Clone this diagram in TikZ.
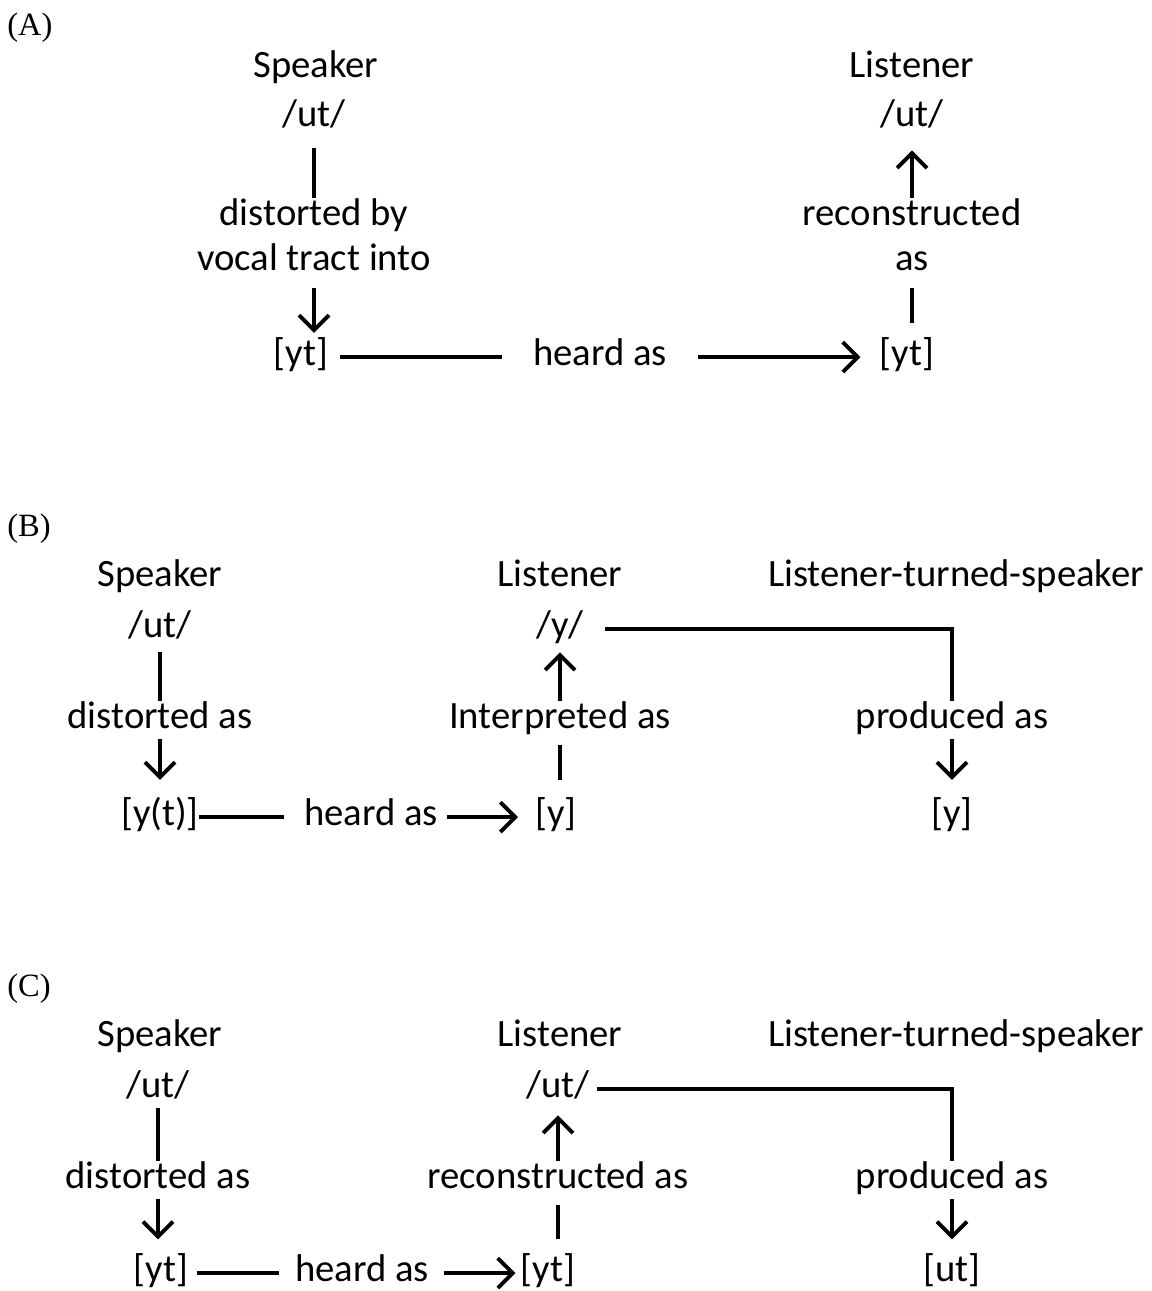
\documentclass[tikz,border=0pt]{standalone}
\usepackage{fontspec}
\setmainfont{Carlito}
\newfontfamily\panelfont{Liberation Serif}
\usetikzlibrary{arrows.meta}

\begin{document}
\begin{tikzpicture}[x=0.02cm,y=-0.02cm,
	word/.style={font=\fontsize{22}{25.5}\selectfont,anchor=base,inner sep=0pt,text height=15pt,text depth=6pt},
	twoline/.style={word,align=center,text height=40.5pt},
	panel/.style={font=\panelfont\fontsize{18.5}{22}\selectfont,anchor=base west,inner sep=0pt},
	link/.style={line width=2.2pt},
	arr/.style={link,-{Straight Barb[length=8.5pt,width=17pt]}}]
	\useasboundingbox (0,0) rectangle (1152,1291);

	\node[panel] (labA) at (7,36) {(A)};
	\node[word] (spkA) at (316,78) {Speaker};
	\node[word] (utA) at (314,127) {/ut/};
	\node[twoline] (distA) at (314,270) {distorted by\\vocal tract into};
	\node[word] (ytA) at (301,365) {[yt]};
	\node[word] (heardA) at (600,365) {heard as};
	\node[word] (ytA2) at (907,365) {[yt]};
	\node[word] (lisA) at (912,78) {Listener};
	\node[word] (utA2) at (912,127) {/ut/};
	\node[twoline] (recA) at (912,270) {reconstructed\\as};
	\draw[link,shorten <=0.2cm] (utA) -- (distA);
	\draw[arr,shorten <=0.15cm,shorten >=0.11cm] (distA) -- (distA |- ytA.north);
	\draw[link,shorten <=0.22cm,shorten >=0.62cm] (ytA) -- (heardA);
	\draw[arr,shorten <=0.62cm,shorten >=0.38cm] (heardA) -- (ytA2);
	\draw[link,shorten <=0.31cm,shorten >=0.15cm] (recA |- ytA2.north) -- (recA);
	\draw[arr,shorten >=0.25cm] (recA) -- (utA2);

	\node[panel] (labB) at (7,536) {(B)};
	\node[word] (spkB) at (160,586) {Speaker};
	\node[word] (utB) at (160,637) {/ut/};
	\node[word] (distB) at (160,728) {distorted as};
	\node[word] (ytB) at (160,825) {[y(t)]};
	\node[word] (heardB) at (371,825) {heard as};
	\node[word] (yB1) at (556,825) {[y]};
	\node[word] (lisB) at (560,586) {Listener};
	\node[word] (yB2) at (560,637) {/y/};
	\node[word] (intB) at (560,728) {Interpreted as};
	\node[word] (ltsB) at (956,586) {Listener-turned-speaker};
	\node[word] (prodB) at (952,728) {produced as};
	\node[word] (yB3) at (952,825) {[y]};
	\draw[link,shorten <=0.09cm] (utB) -- (distB);
	\draw[arr,shorten >=0.37cm] (distB) -- (ytB);
	\draw[link,shorten >=0.4cm] (ytB) -- (heardB);
	\draw[arr,shorten <=0.18cm,shorten >=0.34cm] (heardB) -- (yB1);
	\draw[link,shorten <=0.37cm,shorten >=0.13cm] (intB |- yB1.north) -- (intB);
	\draw[arr,shorten >=0.09cm] (intB) -- (yB2);
	\draw[link,shorten <=0.42cm] (yB2) -| (prodB);
	\draw[arr,shorten >=0.37cm] (prodB) -- (yB3);

	\node[panel] (labC) at (7,996) {(C)};
	\node[word] (spkC) at (160,1046) {Speaker};
	\node[word] (utC) at (158,1097) {/ut/};
	\node[word] (distC) at (158,1188) {distorted as};
	\node[word] (ytC) at (161,1281) {[yt]};
	\node[word] (heardC) at (362,1281) {heard as};
	\node[word] (ytC2) at (548,1281) {[yt]};
	\node[word] (lisC) at (560,1046) {Listener};
	\node[word] (utC2) at (558,1097) {/ut/};
	\node[word] (recC) at (558,1188) {reconstructed as};
	\node[word] (ltsC) at (956,1046) {Listener-turned-speaker};
	\node[word] (prodC) at (952,1188) {produced as};
	\node[word] (utC3) at (952,1281) {[ut]};
	\draw[link] (utC) -- (distC);
	\draw[arr,shorten >=0.3cm] (distC) -- (distC |- ytC.north);
	\draw[link,shorten <=0.17cm,shorten >=0.32cm] (ytC) -- (heardC);
	\draw[arr,shorten <=0.3cm,shorten >=0.1cm] (heardC) -- (ytC2);
	\draw[link,shorten <=0.3cm,shorten >=0.13cm] (recC |- ytC2.north) -- (recC);
	\draw[arr,shorten >=0.15cm] (recC) -- (utC2);
	\draw[link,shorten <=0.14cm] (utC2) -| (prodC);
	\draw[arr,shorten >=0.3cm] (prodC) -- (utC3);
\end{tikzpicture}
\end{document}
